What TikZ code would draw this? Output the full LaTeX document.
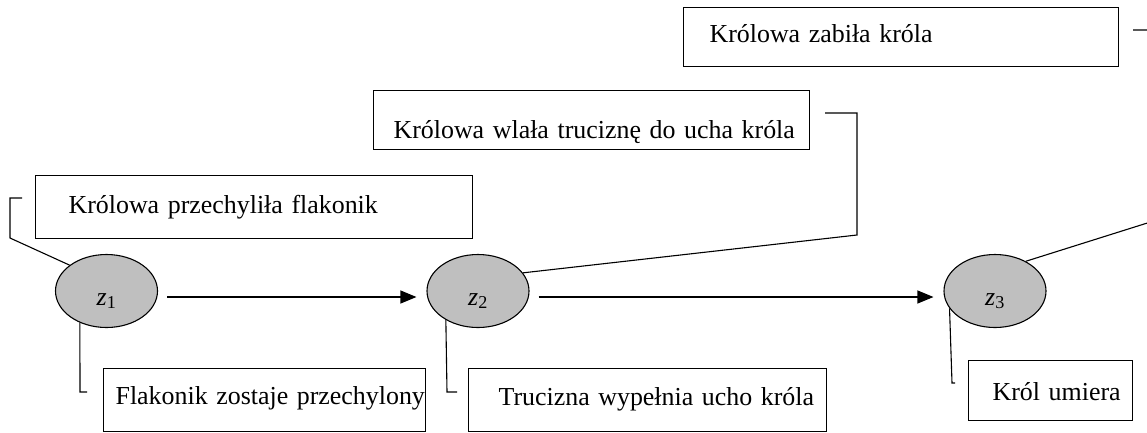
\documentclass[tikz,border=0pt]{standalone}
\usepackage{fontspec}
\setmainfont{Liberation Serif}
\usetikzlibrary{shapes.geometric,arrows.meta}
\tikzset{
  event/.style={draw, line width=1.1pt, fill=black!25, ellipse,
    minimum width=102pt, minimum height=73pt, inner sep=0pt,
    text height=28pt, text depth=0pt},
  textbox/.style={draw, line width=1.2pt, anchor=north west, align=left, inner ysep=0pt},
  callout/.style={line width=1.1pt},
  causes/.style={line width=1.1pt, -{Triangle[length=16pt,width=13pt]},
    shorten <=9pt, shorten >=10pt},
}
\begin{document}
\begin{tikzpicture}[x=1pt, y=-1pt, font=\fontsize{25.9}{31}\selectfont]
        \useasboundingbox (0,0) rectangle (1147,432);
        \clip (0,0) rectangle (1147,432);

        % Events
        \foreach \i/\x in {1/106.5, 2/478, 3/995}
          \node[event] (z\i) at (\x,291) {\textit{z}\textsubscript{\i}};

        % Descriptions
        \node[textbox, inner xsep=33pt, text width=371pt, text height=38pt, text depth=25pt]
          (przechylila) at (35,175) {\mbox{Królowa przechyliła flakonik}};
        \node[textbox, inner xsep=12pt, text width=298pt, text height=36pt, text depth=27pt]
          (przechylony) at (103,368) {\mbox{Flakonik zostaje przechylony}};
        \node[textbox, inner xsep=20pt, text width=396pt, text height=48pt, text depth=11pt]
          (wlala) at (373,90) {\mbox{Królowa wlała truciznę do ucha króla}};
        \node[textbox, inner xsep=30pt, text width=298pt, text height=37pt, text depth=26pt]
          (wypelnia) at (468,368) {\mbox{Trucizna wypełnia ucho króla}};
        \node[textbox, inner xsep=26pt, text width=383pt, text height=35pt, text depth=24pt]
          (zabila) at (683,7) {\mbox{Królowa zabiła króla}};
        \node[textbox, inner xsep=24pt, text width=116pt, text height=40pt, text depth=20pt]
          (umiera) at (968,360) {\mbox{Król umiera}};

        % Causal chain
        \draw[causes] ([yshift=-6pt]z1.east) -- ([yshift=-6pt]z2.west);
        \draw[causes] ([yshift=-6pt]z2.east) -- ([yshift=-6pt]z3.west);

        % Callouts
        \coordinate (c1) at (22,198);
        \coordinate (c2) at (87,392);
        \coordinate (c3) at (457,392);
        \coordinate (c4) at (825,113);
        \coordinate (c5) at (1133,30);
        \coordinate (c6) at (955,383);
        \draw[callout] (z1.145) -- (10,238) -- (10,198) -- (c1);
        \draw[callout] (z1.230) -- (80,392) -- (c2);
        \draw[callout] (z2.222) -- (447,392) -- (c3);
        \draw[callout] (z2.22) -- (857,235) -- (857,113) -- (c4);
        \draw[callout] (z3.44) -- (1160,219) -- (1160,30) -- (c5);
        \draw[callout] (z3.201) -- (952,383) -- (c6);
\end{tikzpicture}
\end{document}
